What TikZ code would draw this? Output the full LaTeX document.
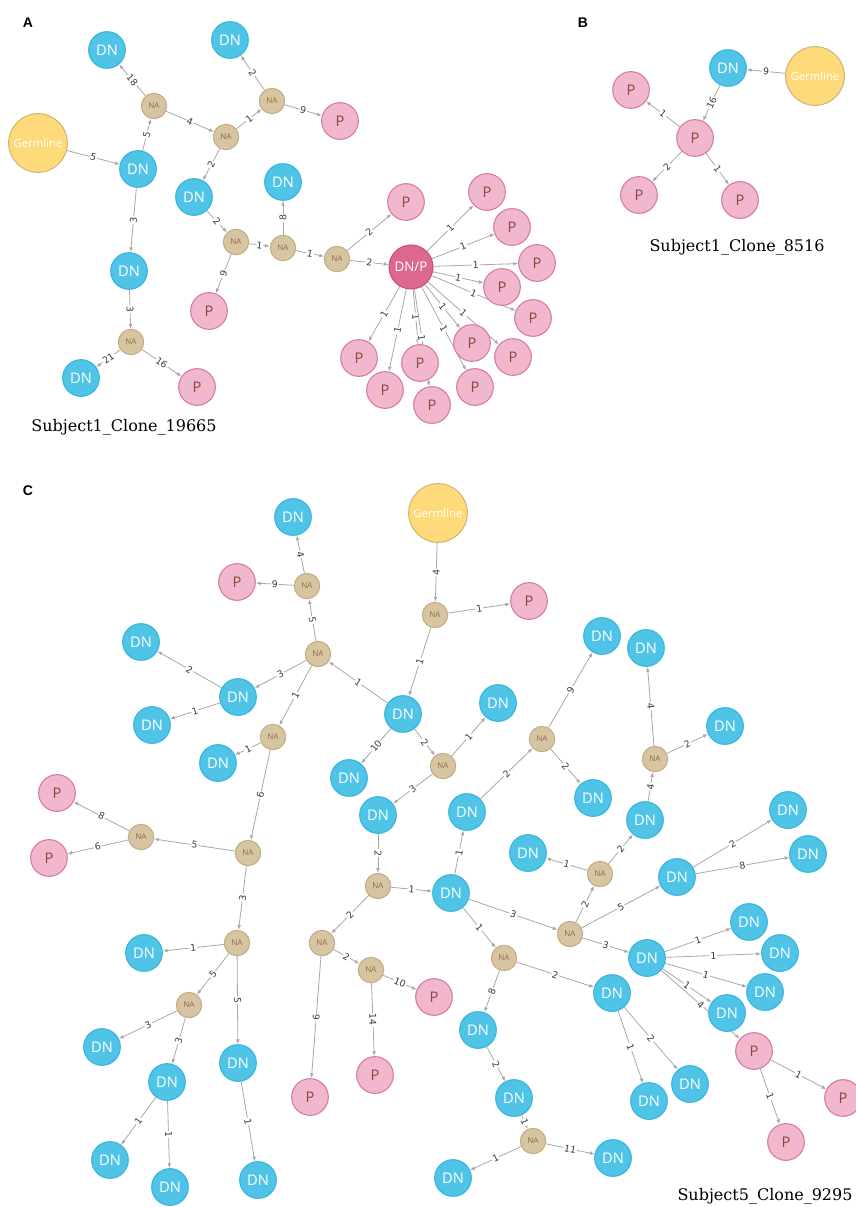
\documentclass[tikz,border=0pt]{standalone}
\usepackage{fontspec}
\usepackage{xcolor}
\usepackage{tikz}
\usetikzlibrary{arrows.meta, backgrounds}
\newfontfamily\nodefont{Open Sans}
\newfontfamily\numfont{DejaVu Sans}
\newfontfamily\capfont{DejaVu Serif}
\newfontfamily\panelfont{Liberation Sans}
\definecolor{dnFill}{RGB}{79,196,230}
\definecolor{dnLine}{RGB}{56,180,222}
\definecolor{pFill}{RGB}{240,183,206}
\definecolor{pLine}{RGB}{214,122,160}
\definecolor{pText}{RGB}{140,72,58}
\definecolor{naFill}{RGB}{215,197,162}
\definecolor{naLine}{RGB}{196,172,132}
\definecolor{naText}{RGB}{140,110,64}
\definecolor{gFill}{RGB}{255,218,122}
\definecolor{gLine}{RGB}{204,184,118}
\definecolor{dpFill}{RGB}{221,104,143}
\definecolor{dpLine}{RGB}{200,82,124}
\definecolor{linkGray}{RGB}{168,168,168}
\definecolor{numGray}{RGB}{60,60,60}

\begin{document}
\begin{tikzpicture}[x=0.75pt, y=-0.75pt,
  dn/.style={circle, draw=dnLine, fill=dnFill, line width=0.8pt, minimum size=27.5pt, inner sep=0pt, text=white, font=\nodefont\fontsize{11}{11}\selectfont},
  pp/.style={circle, draw=pLine, fill=pFill, line width=0.8pt, minimum size=27.5pt, inner sep=0pt, text=pText, font=\nodefont\fontsize{11}{11}\selectfont},
  na/.style={circle, draw=naLine, fill=naFill, line width=0.8pt, minimum size=19pt, inner sep=0pt, text=naText, font=\nodefont\fontsize{6}{6}\selectfont},
  germ/.style={circle, draw=gLine, fill=gFill, line width=0.8pt, minimum size=44pt, inner sep=0pt, text=white, font=\nodefont\fontsize{8.5}{8.5}\selectfont},
  dnp/.style={circle, draw=dpLine, fill=dpFill, line width=0.8pt, minimum size=33pt, inner sep=0pt, text=white, font=\nodefont\fontsize{10}{10}\selectfont},
  link/.style={draw=linkGray, line width=0.6pt, -{Latex[length=3.6pt,width=2.8pt]}},
  wt/.style={midway, sloped, fill=white, inner sep=0.7pt, text=numGray, font=\numfont\fontsize{7}{8}\selectfont},
  panel/.style={font=\panelfont\bfseries\fontsize{10.5}{10.5}\selectfont},
  caption/.style={font=\capfont\fontsize{12}{12}\selectfont}]
\useasboundingbox (0,0) rectangle (856,1207);

% panel A
\node[panel] (labA) at (28,23) {A};
\node[germ] (ag) at (38,143) {Germline};
\node[dnp] (adp) at (411,267) {DN/P};
\foreach \n/\x/\y in {a1/107/50, a2/230/40, a3/138/169, a4/194/197, a5/283/182, a6/129/271, a7/81/378}
  \node[dn] (\n) at (\x,\y) {DN};
\foreach \n/\x/\y in {an1/154/106, an2/272/101, an3/226/137, an4/236/242, an5/283/248, an6/337/259, an7/131/342}
  \node[na] (\n) at (\x,\y) {NA};
\foreach \n/\x/\y in {ap1/340/121, ap2/197/387, ap3/209/311, ap4/406/202, ap5/487/192, ap6/512/227,
  ap7/537/263, ap8/502/287, ap9/533/318, ap10/513/357, ap11/472/343, ap12/475/387,
  ap13/420/363, ap14/432/405, ap15/385/390, ap16/359/358}
  \node[pp] (\n) at (\x,\y) {P};
\node[caption] (capA) at (124,427) {Subject1\_Clone\_19665};

% panel B
\node[panel] (labB) at (583,23) {B};
\node[germ] (bg) at (815,76) {Germline};
\node[dn] (bd) at (728,68) {DN};
\foreach \n/\x/\y in {bp1/695/138, bp2/631/90, bp3/639/195, bp4/740/200}
  \node[pp] (\n) at (\x,\y) {P};
\node[caption] (capB) at (737,247) {Subject1\_Clone\_8516};

% panel C
\node[panel] (labC) at (28,491) {C};
\node[germ] (cg) at (438,513) {Germline};
\foreach \n/\x/\y in {c1/293/517, c2/141/642, c3/238/697, c4/152/725, c5/403/714, c6/218/763,
  c7/349/778, c8/498/703, c9/378/815, c10/602/636, c11/646/648, c12/725/726, c13/593/798,
  c14/467/812, c15/645/820, c16/144/953, c17/102/1047, c18/238/1063, c19/167/1082,
  c20/110/1160, c21/170/1187, c22/258/1180, c23/451/893, c24/528/853, c25/677/877,
  c26/788/810, c27/808/854, c28/647/958, c29/749/922, c30/780/953, c31/765/992,
  c32/727/1013, c33/612/993, c34/649/1101, c35/690/1084, c36/478/1030, c37/514/1098,
  c38/453/1178, c39/613/1158}
  \node[dn] (\n) at (\x,\y) {DN};
\foreach \n/\x/\y in {cn1/307/586, cn2/435/615, cn3/318/654, cn4/273/737, cn5/443/766,
  cn6/542/739, cn7/655/759, cn8/141/837, cn9/248/853, cn10/237/943, cn11/189/1005,
  cn12/378/886, cn13/322/943, cn14/371/970, cn15/570/934, cn16/504/958, cn17/600/874,
  cn18/533/1141}
  \node[na] (\n) at (\x,\y) {NA};
\foreach \n/\x/\y in {cp1/237/582, cp2/529/601, cp3/57/793, cp4/49/858, cp5/434/997,
  cp6/375/1075, cp7/310/1097, cp8/754/1051, cp9/843/1098, cp10/786/1142}
  \node[pp] (\n) at (\x,\y) {P};
\node[caption] (capC) at (765,1196) {Subject5\_Clone\_9295};

\begin{scope}[on background layer]
\foreach \s/\t/\w in {an1/a1/18, a3/an1/5, ag/a3/5, an1/an3/4, an3/an2/1, an2/a2/2, an2/ap1/9,
  an3/a4/2, a3/a6/3, a6/an7/3, an7/a7/21, an7/ap2/16, a4/an4/2, an4/ap3/9, an4/an5/1,
  an5/a5/8, an5/an6/1, an6/ap4/2, an6/adp/2}
  \draw[link] (\s) -- node[wt] {\w} (\t);
\foreach \t in {ap5, ap6, ap7, ap8, ap9, ap10, ap11, ap12, ap13, ap14, ap15, ap16}
  \draw[link] (adp) -- node[wt] {1} (\t);
\foreach \s/\t/\w in {bg/bd/9, bd/bp1/16, bp1/bp2/1, bp1/bp3/2, bp1/bp4/1}
  \draw[link] (\s) -- node[wt] {\w} (\t);
\foreach \s/\t/\w in {cn1/c1/4, cn1/cp1/9, cn3/cn1/5, cg/cn2/4, cn2/cp2/1, cn2/c5/1, c5/cn3/1,
  cn3/c3/3, c3/c2/2, c3/c4/1, cn3/cn4/1, cn4/c6/1, cn4/cn9/6, c5/c7/10, c5/cn5/2, cn5/c8/1,
  cn5/c9/3, cn6/c10/9, cn6/c13/2, c14/cn6/2, cn7/c11/4, cn7/c12/2, c15/cn7/4, cn9/cn8/5,
  cn8/cp3/8, cn8/cp4/6, cn9/cn10/3, cn10/c16/1, cn10/cn11/5, cn10/c18/5, cn11/c17/3,
  cn11/c19/3, c19/c20/1, c19/c21/1, c18/c22/1, c9/cn12/2, cn12/c23/1, cn12/cn13/2,
  cn13/cp7/6, cn13/cn14/2, cn14/cp5/10, cn14/cp6/14, c23/c14/1, c23/cn15/3, c23/cn16/1,
  cn15/cn17/2, cn17/c24/1, cn17/c15/2, cn15/c25/5, c25/c26/2, c25/c27/8, cn15/c28/3,
  c28/c29/1, c28/c30/1, c28/c31/1, c28/c32/1, c28/cp8/4, cp8/cp9/1, cp8/cp10/1,
  cn16/c33/2, cn16/c36/8, c33/c34/1, c33/c35/2, c36/c37/2, c37/cn18/1, cn18/c38/1,
  cn18/c39/11}
  \draw[link] (\s) -- node[wt] {\w} (\t);
\end{scope}
\end{tikzpicture}
\end{document}
